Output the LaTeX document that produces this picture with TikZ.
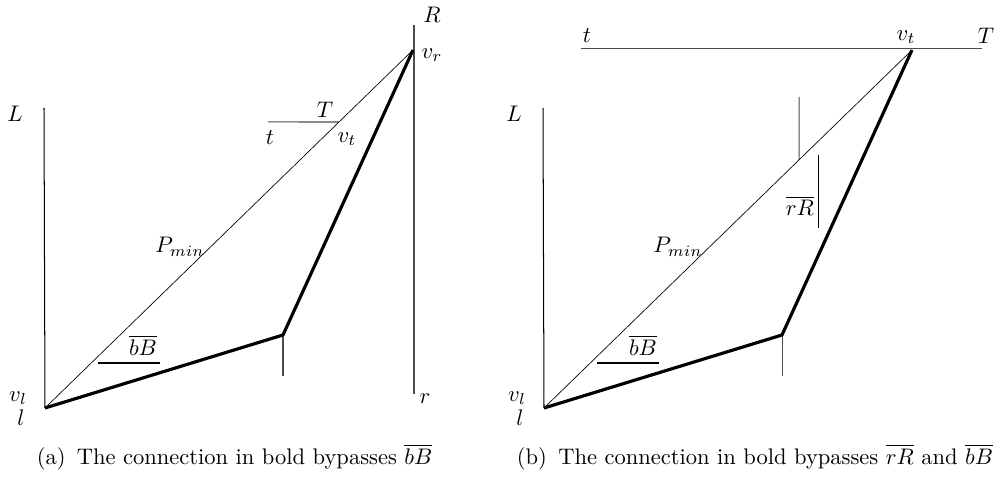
\documentclass[tikz,border=0pt]{standalone}
\usepackage{amsmath}
\begin{document}
\begin{tikzpicture}[x=0.444pt,y=-0.444pt,
  wall/.style={line width=0.45pt,black},
  graywall/.style={line width=0.45pt,black!70},
  pmin/.style={line width=0.3pt,black},
  bold/.style={line width=1.4pt,black,line join=round},
  lbl/.style={inner sep=0pt,font=\normalsize},
  captext/.style={inner sep=0pt}]
\useasboundingbox (0,0) rectangle (995,480);

% ---------------- panel (a) ----------------
\coordinate (avl) at (45,408);
\coordinate (avr) at (413,50);
\coordinate (ab) at (283,335);
\coordinate (aLtop) at (44,108);
\coordinate (aRtop) at (414,25);
\coordinate (aRbot) at (414,394);
\coordinate (atickb) at (283,376);
\coordinate (aTl) at (268,122);
\coordinate (avt) at (intersection of avl--avr and 260,122--420,122);
\coordinate (abBl) at (98,363);
\coordinate (abBr) at (160,363);

\draw[wall] (aLtop) -- (avl);
\draw[graywall] (aRtop) -- (aRbot);
\draw[graywall] (ab) -- (atickb);
\draw[graywall] (aTl) -- (avt);
\draw[wall] (abBl) -- (abBr);
\draw[pmin] (avl) -- (avr);
\draw[bold] (avl) -- (ab) -- (avr);

\node[lbl] (aL) at (15,114) {$L$};
\node[lbl] (aR) at (432,15) {$R$};
\node[lbl] (avrl) at (432,55) {$v_r$};
\node[lbl] (aT) at (325,110) {$T$};
\node[lbl] (at) at (270,138) {$t$};
\node[lbl] (avtl) at (347,139) {$v_t$};
\node[lbl] (aP) at (180,247) {$P_{min}$};
\node[lbl] (abB) at (143,345) {$\overline{bB}$};
\node[lbl] (avll) at (18,398) {$v_l$};
\node[lbl] (al) at (21,418) {$l$};
\node[lbl] (ar) at (425,399) {$r$};
\node[captext] (acap) at (234.5,457) {(a)\hspace{0.5em}The connection in bold bypasses $\overline{bB}$};

% ---------------- panel (b) ----------------
\coordinate (bvl) at (544,408);
\coordinate (bvt) at (912,50);
\coordinate (bb) at (782,335);
\coordinate (bLtop) at (543,108);
\coordinate (btickb) at (782,376);
\coordinate (bTl) at (581,49);
\coordinate (bTr) at (982,49);
\coordinate (brtop) at (799,97);
\coordinate (brbot) at (intersection of bvl--bvt and 799,90--799,200);
\coordinate (brRt) at (818,155);
\coordinate (brRb) at (818,228);
\coordinate (bbBl) at (597,363);
\coordinate (bbBr) at (659,363);

\draw[wall] (bLtop) -- (bvl);
\draw[graywall] (bTl) -- (bTr);
\draw[graywall] (bb) -- (btickb);
\draw[graywall] (brtop) -- (brbot);
\draw[wall] (brRt) -- (brRb);
\draw[wall] (bbBl) -- (bbBr);
\draw[pmin] (bvl) -- (bvt);
\draw[bold] (bvl) -- (bb) -- (bvt);

\node[lbl] (bL) at (514,114) {$L$};
\node[lbl] (bt) at (587,36) {$t$};
\node[lbl] (bvtl) at (906,37) {$v_t$};
\node[lbl] (bT) at (986,36) {$T$};
\node[lbl] (brR) at (800,206) {$\overline{rR}$};
\node[lbl] (bP) at (678,247) {$P_{min}$};
\node[lbl] (bbB) at (643,345) {$\overline{bB}$};
\node[lbl] (bvll) at (517,398) {$v_l$};
\node[lbl] (bl) at (520,418) {$l$};
\node[captext] (bcap) at (755,457) {(b)\hspace{0.5em}The connection in bold bypasses $\overline{rR}$ and $\overline{bB}$};
\end{tikzpicture}
\end{document}
